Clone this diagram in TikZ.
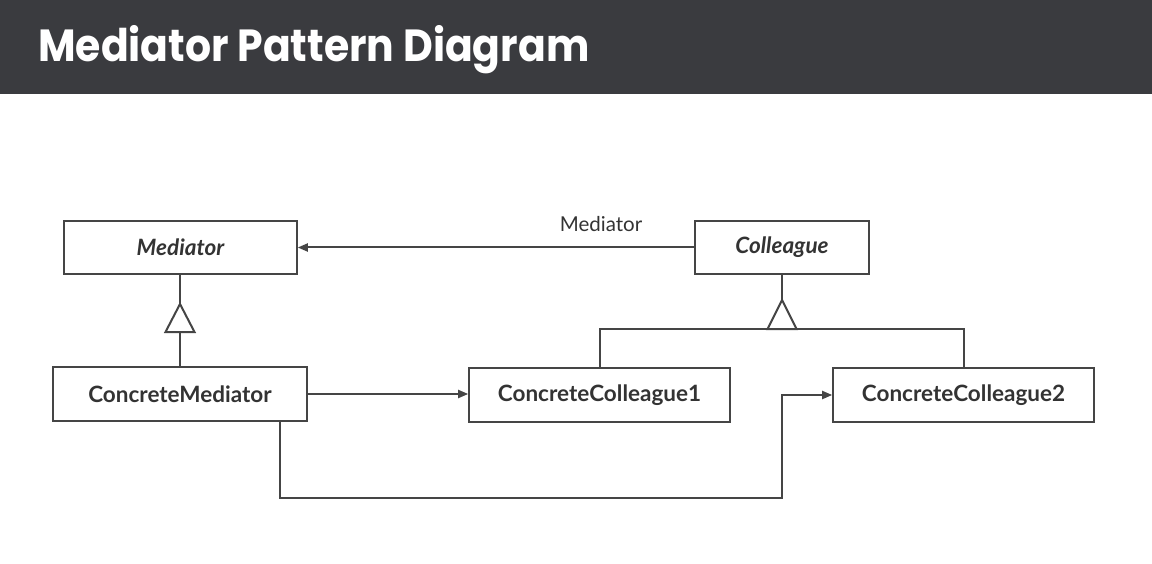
\documentclass[tikz,border=0pt]{standalone}
\usepackage{fontspec}
\setmainfont{Lato}
\newfontfamily\titlefont{Poppins}
\usetikzlibrary{arrows.meta}
\definecolor{band}{HTML}{3A3B3F}
\definecolor{ln}{HTML}{454545}
\definecolor{tx}{HTML}{333333}
\begin{document}
\begin{tikzpicture}[x=1pt,y=-1pt,
  cls/.style={draw=ln, line width=1.6pt, fill=white, inner sep=0pt, text=tx,
    font=\fontsize{22.5}{26}\selectfont\bfseries},
  conn/.style={draw=ln, line width=2pt},
  arr/.style={conn, -{Triangle[length=10pt,width=8pt]}},
  gen/.style={draw=ln, line width=2pt, fill=white, line join=miter},
  lbl/.style={text=tx, font=\fontsize{20.5}{24}\selectfont}]
\fill[white] (0,0) rectangle (1152,564);
\useasboundingbox (0,0) rectangle (1152,564);
\fill[band] (0,0) rectangle (1152,94);
\node[anchor=base west, inner sep=0pt, text=white,
  font=\titlefont\fontsize{45}{50}\selectfont\bfseries] (title) at (38,62) {\scalebox{0.91}[1]{Mediator Pattern Diagram}};

\node[cls, minimum width=233pt, minimum height=53pt] (med) at (180.5,247.5) {\itshape Mediator};
\node[cls, minimum width=174pt, minimum height=53pt] (col) at (782,247.5) {\itshape Colleague};
\node[cls, minimum width=254pt, minimum height=54pt] (cm) at (180,394) {ConcreteMediator};
\node[cls, minimum width=261pt, minimum height=54pt] (cc1) at (599.5,395) {ConcreteColleague1};
\node[cls, minimum width=261pt, minimum height=54pt] (cc2) at (963.5,395) {ConcreteColleague2};

% association Colleague -> Mediator
\draw[arr] (col.west) -- (med.east);
\node[lbl] (assoc) at (601,224) {Mediator};

% generalization Mediator
\coordinate (mapex) at (180,304);
\coordinate (mbase) at (180,332);
\draw[conn] (med.south -| mapex) -- (mapex);
\draw[gen] (mapex) -- ++(-14.5,28) -- ++(29,0) -- cycle;
\draw[conn] (mbase) -- (cm.north);

% generalization Colleague
\coordinate (capex) at (782,300);
\coordinate (cbase) at (782,329);
\coordinate (bar1) at (599.5,329);
\coordinate (bar2) at (963.5,329);
\draw[conn] (col.south) -- (capex);
\draw[conn] (cc1.north) -- (bar1) -- (bar2) -- (cc2.north);
\draw[gen] (capex) -- ++(-14.5,29) -- ++(29,0) -- cycle;

% ConcreteMediator -> ConcreteColleague1
\draw[arr] (cm.east) -- (cm.east -| cc1.west);

% ConcreteMediator -> ConcreteColleague2
\coordinate (r1) at (280,498);
\coordinate (r2) at (782,498);
\draw[arr] (cm.south -| r1) -- (r1) -- (r2) -- (r2 |- cc2.west) -- (cc2.west);
\end{tikzpicture}
\end{document}
